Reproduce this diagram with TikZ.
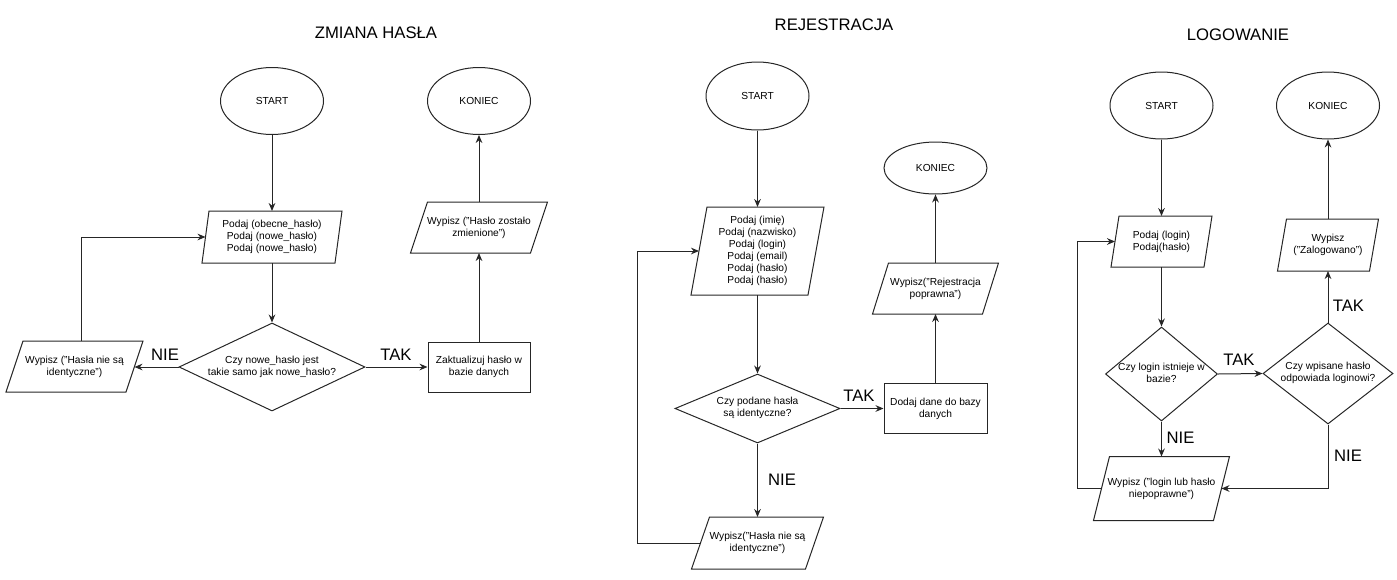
\documentclass[tikz,border=0pt]{standalone}
\usepackage{fontspec}
\setmainfont{Liberation Sans}
\usetikzlibrary{shapes.geometric,arrows.meta}
\newcommand\dtxt[1]{\makebox[0pt]{\begin{tabular}{@{}c@{}}#1\end{tabular}}}
\newcommand\para[2]{%
  \draw[shapeline] ([xshift=#2*0.75pt]#1.north west) -- ([xshift=#2*0.75pt]#1.north east)
    -- ([xshift=-#2*0.75pt]#1.south east) -- ([xshift=-#2*0.75pt]#1.south west) -- cycle;}
\tikzset{
  every node/.style={font=\fontsize{7.65}{9}\selectfont, align=center, inner sep=0pt, text=black},
  sz/.style 2 args={minimum width=#1*0.75pt, minimum height=#2*0.75pt},
  shapeline/.style={draw=black!85, line width=0.75pt},
  term/.style={ellipse, shapeline, sz={103}{67}},
  proc/.style={rectangle, shapeline},
  io/.style={rectangle, draw=none, outer sep=0pt},
  dec/.style={diamond, shapeline},
  arr/.style={draw=black!85, line width=0.75pt, -{Stealth[length=6pt,width=5pt]}},
  lbl/.style={font=\fontsize{12.5}{15}\selectfont},
  ttl/.style={font=\fontsize{12.5}{15}\selectfont},
}
\begin{document}
\begin{tikzpicture}[x=0.75pt,y=-0.75pt]
\useasboundingbox (0,0) rectangle (1397,579);

% ---------------- ZMIANA HASŁA ----------------
\node[ttl] (t1) at (376,33) {ZMIANA HASŁA};
\node[term] (s1) at (272,101) {START};
\node[term] (k1) at (479,101) {KONIEC};
\node[io, sz={133}{52}] (p1) at (272,237) {Podaj (obecne\_hasło)\\Podaj (nowe\_hasło)\\Podaj (nowe\_hasło)};
\para{p1}{3.5}
\node[dec, sz={186}{88}] (d1) at (272,367) {\dtxt{Czy nowe\_hasło jest\\takie samo jak nowe\_hasło?}};
\node[io, sz={120}{51}] (w1) at (74.5,366.5) {Wypisz ("Hasła nie są\\identyczne")};
\para{w1}{8.5}
\node[proc, sz={102}{50}] (z1) at (479,367) {Zaktualizuj hasło w\\bazie danych};
\node[io, sz={120}{51}] (o1) at (479,227.5) {Wypisz ("Hasło zostało\\zmienione")};
\para{o1}{8.5}

\draw[arr] (s1) -- (p1);
\draw[arr] (p1) -- (d1);
\draw[arr] (d1.west) -- (w1.east |- d1.west);
\draw[arr] (d1.east) -- (z1.west);
\draw[arr] (z1) -- (o1);
\draw[arr] (o1) -- (k1);
\draw[arr] ([xshift=6.5*0.75pt]w1.north) |- (p1.west);
\node[lbl] (n1) at (165,355) {NIE};
\node[lbl] (y1) at (396,355) {TAK};

% ---------------- REJESTRACJA ----------------
\node[ttl] (t2) at (834,25) {REJESTRACJA};
\node[term, sz={103}{68}] (s2) at (757.5,96) {START};
\node[io, sz={117}{88}] (p2) at (757.5,251) {Podaj (imię)\\Podaj (nazwisko)\\Podaj (login)\\Podaj (email)\\Podaj (hasło)\\Podaj (hasło)};
\para{p2}{8}
\node[dec, sz={165}{69}] (d2) at (757.5,408.5) {\dtxt{Czy podane hasła\\są identyczne?}};
\node[proc, sz={103}{50}] (a2) at (935.5,408.5) {Dodaj dane do bazy\\danych};
\node[io, sz={110}{51}] (r2) at (935.5,288.5) {Wypisz("Rejestracja\\poprawna")};
\para{r2}{8}
\node[term, sz={103}{52}] (k2) at (935.5,168) {KONIEC};
\node[io, sz={114}{52}] (h2) at (757.5,543) {Wypisz("Hasła nie są\\identyczne")};
\para{h2}{9}
\coordinate (c2) at (637,543);

\draw[arr] (s2) -- (p2);
\draw[arr] (p2) -- (d2);
\draw[arr] (d2.east) -- (a2.west);
\draw[arr] (a2) -- (r2);
\draw[arr] (r2) -- (k2);
\draw[arr] (d2) -- (h2);
\draw[arr] (h2.west) -- (c2) |- (p2.west);
\node[lbl] (y2) at (859,396) {TAK};
\node[lbl] (n2) at (782,479.5) {NIE};

% ---------------- LOGOWANIE ----------------
\node[ttl] (t3) at (1238,34.5) {LOGOWANIE};
\node[term] (s3) at (1161.5,105.5) {START};
\node[term] (k3) at (1328,105.5) {KONIEC};
\node[io, sz={93}{51}] (p3) at (1161.5,241.5) {Podaj (login)\\Podaj(hasło)};
\para{p3}{4}
\node[dec, sz={112}{94}] (d31) at (1161.5,374) {\dtxt{Czy login istnieje w\\bazie?}};
\node[dec, sz={130}{101}] (d32) at (1328,373.5) {\dtxt{Czy wpisane hasło\\odpowiada loginowi?}};
\node[io, sz={92}{52}] (z3) at (1328,245) {Wypisz\\("Zalogowano")};
\para{z3}{4.5}
\node[io, sz={120}{64}] (n3) at (1161.5,488.5) {Wypisz ("login lub hasło\\niepoprawne")};
\para{n3}{8}
\coordinate (c3) at (1077,488.5);

\draw[arr] (s3) -- (p3);
\draw[arr] (p3) -- (d31);
\draw[arr] (d31.east) -- (d32.west);
\draw[arr] (d31) -- (n3);
\draw[arr] (d32) -- (z3);
\draw[arr] (z3) -- (k3);
\draw[arr] (d32.south) |- (n3.east);
\draw[arr] (n3.west) -- (c3) |- (p3.west);
\node[lbl] (y31) at (1239,360) {TAK};
\node[lbl] (n31) at (1180.5,438) {NIE};
\node[lbl] (y32) at (1348.5,305.5) {TAK};
\node[lbl] (n32) at (1348,456) {NIE};
\end{tikzpicture}
\end{document}
